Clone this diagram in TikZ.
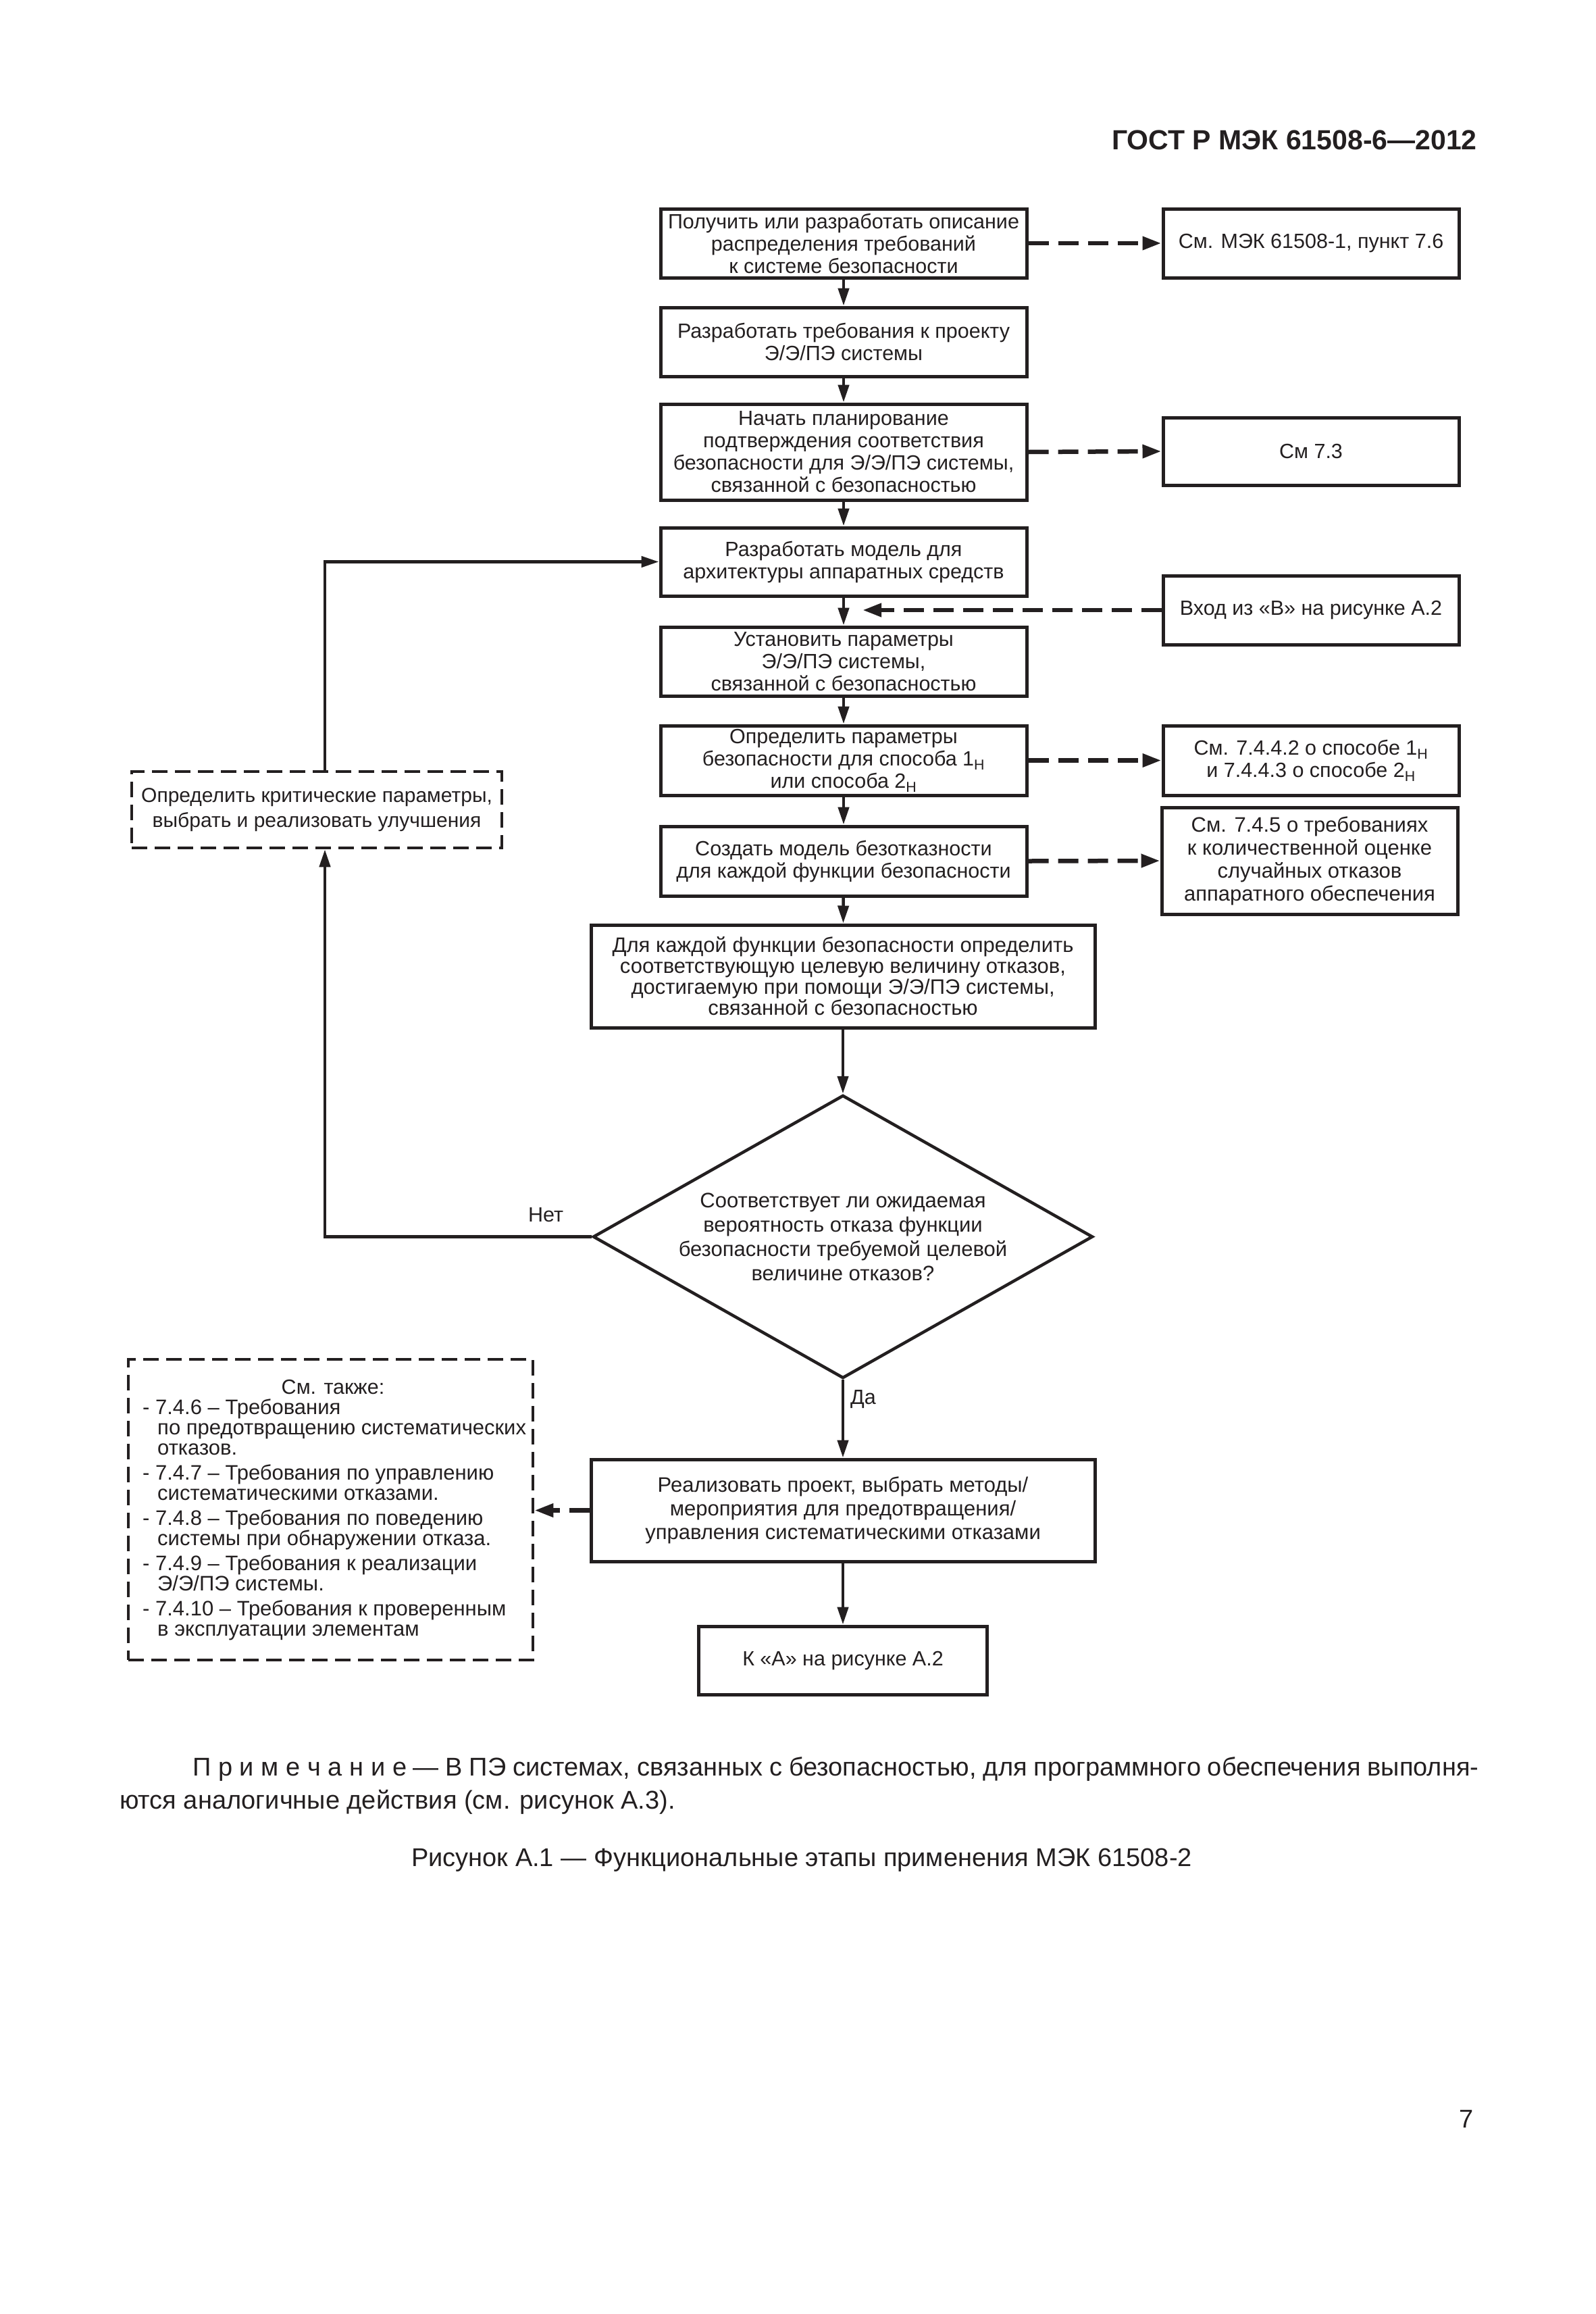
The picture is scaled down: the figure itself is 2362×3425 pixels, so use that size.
\documentclass[tikz,border=0pt]{standalone}
\usepackage{fontspec}
\setmainfont{Liberation Sans}
\usetikzlibrary{arrows.meta,shapes.geometric,calc}
\definecolor{ink}{RGB}{35,31,32}
\newcommand\fmain{\fontsize{30.5}{33}\selectfont}
\newcommand\fnote{\fontsize{38}{44}\selectfont}
\newcommand\sH{\textsubscript{Н}}
\begin{document}
\begin{tikzpicture}[x=1pt,y=-1pt,
  box/.style={draw=ink, line width=5pt, inner sep=0pt, align=center, font=\fmain, text=ink, minimum width=542pt},
  rbox/.style={box, minimum width=438pt},
  wbox/.style={box, minimum width=746pt},
  dbox/.style={draw=ink, line width=4.5pt, dash pattern=on 23pt off 11pt, inner sep=0pt, align=center, font=\fmain, text=ink},
  conn/.style={draw=ink, line width=4.5pt, -{Triangle[length=26pt,width=16pt]}},
  dconn/.style={draw=ink, line width=6.5pt, dash pattern=on 30pt off 14pt, -{Triangle[length=28pt,width=19pt]}},
  lbl/.style={font=\fmain, text=ink, inner sep=0pt}
]
\useasboundingbox (0,0) rectangle (2362,3425);
\fill[white] (0,0) rectangle (2362,3425);

\node[anchor=base east, inner sep=0pt, text=ink, font=\bfseries\fontsize{41}{44}\selectfont] (hdr) at (2187,222) {ГОСТ Р МЭК 61508-6—2012};

\node[box, minimum height=102pt] (b1) at (1249,360) {Получить или разработать описание\\распределения требований\\к системе безопасности};
\node[rbox, minimum height=102pt] (r1) at (1941,360) {См. МЭК 61508-1, пункт 7.6};
\node[box, minimum height=102pt] (b2) at (1249,506) {Разработать требования к проекту\\Э/Э/ПЭ системы};
\node[box, minimum height=142pt] (b3) at (1249,669) {Начать планирование\\подтверждения соответствия\\безопасности для Э/Э/ПЭ системы,\\связанной с безопасностью};
\node[rbox, minimum height=100pt] (r3) at (1941,668) {См 7.3};
\node[box, minimum height=101pt] (b4) at (1249,831.5) {Разработать модель для\\архитектуры аппаратных средств};
\node[rbox, minimum height=102pt] (vhod) at (1941,903) {Вход из «В» на рисунке А.2};
\coordinate (vin) at (1277,903);
\node[box, minimum height=102pt] (b5) at (1249,979) {Установить параметры\\Э/Э/ПЭ системы,\\связанной с безопасностью};
\node[box, minimum height=103pt] (b6) at (1249,1125.5) {Определить параметры\\безопасности для способа 1\sH\\или способа 2\sH};
\node[rbox, minimum height=103pt] (r6) at (1941,1125.5) {См. 7.4.4.2 о способе 1\sH\\и 7.4.4.3 о способе 2\sH};
\node[box, minimum height=103pt] (b7) at (1249,1274.5) {Создать модель безотказности\\для каждой функции безопасности};
\node[rbox, minimum height=158pt, font=\fontsize{31}{34}\selectfont] (r7) at (1939,1274) {См. 7.4.5 о требованиях\\к количественной оценке\\случайных отказов\\аппаратного обеспечения};
\node[wbox, minimum height=152pt, font=\fontsize{31}{31}\selectfont] (b8) at (1248,1445) {Для каждой функции безопасности определить\\соответствующую целевую величину отказов,\\достигаемую при помощи Э/Э/ПЭ системы,\\связанной с безопасностью};

\node[draw=ink, line width=4.5pt, diamond, inner sep=0pt, minimum width=740pt, minimum height=419pt] (dia) at (1248,1830.5) {};
\node[lbl, align=center, font=\fontsize{31}{36}\selectfont] (diatext) at (dia.center) {Соответствует ли ожидаемая\\вероятность отказа функции\\безопасности требуемой целевой\\величине отказов?};
\node[lbl] (net) at (808,1798) {Нет};
\node[lbl, anchor=west] (da) at (1259,2071) {Да};

\node[wbox, minimum height=151pt, font=\fontsize{31}{35}\selectfont] (b9) at (1248,2235.5) {Реализовать проект, выбрать методы/\\мероприятия для предотвращения/\\управления систематическими отказами};
\node[box, minimum width=427pt, minimum height=101pt] (b10) at (1248,2457.5) {К «А» на рисунке А.2};

\node[dbox, minimum width=548pt, minimum height=113pt, font=\fontsize{30}{37}\selectfont] (crit) at (469,1198.5) {Определить критические параметры,\\выбрать и реализовать улучшения};

\node[dbox, minimum width=599pt, minimum height=445pt] (seealso) at (489.5,2234.5) {};
\node[lbl, anchor=base] (seetitle) at (493,2063) {См. также:};
\node[lbl, anchor=north west, align=left, font=\fontsize{31}{30}\selectfont] (seelist) at (211,2071) {- 7.4.6 – Требования\\
\hspace*{22pt}по предотвращению систематических\\
\hspace*{22pt}отказов.\\[7pt]
- 7.4.7 – Требования по управлению\\
\hspace*{22pt}систематическими отказами.\\[7pt]
- 7.4.8 – Требования по поведению\\
\hspace*{22pt}системы при обнаружении отказа.\\[7pt]
- 7.4.9 – Требования к реализации\\
\hspace*{22pt}Э/Э/ПЭ системы.\\[7pt]
- 7.4.10 – Требования к проверенным\\
\hspace*{22pt}в эксплуатации элементам};

% connectors
\draw[conn] (b1) -- (b2);
\draw[conn] (b2) -- (b3);
\draw[conn] (b3) -- (b4);
\draw[conn] (b4) -- (b5);
\draw[conn] (b5) -- (b6);
\draw[conn] (b6) -- (b7);
\draw[conn] (b7) -- (b8);
\draw[conn] (b8) -- (dia.north);
\draw[conn] (dia.south) -- (b9);
\draw[conn] (b9) -- (b10);
\draw[dconn] (b1.east) -- (r1.west);
\draw[dconn] (b3.east) -- (r3.west);
\draw[dconn] (vhod.west) -- (vin);
\draw[dconn] (b6.east) -- (r6.west);
\draw[dconn] (b7.east) -- (r7.west);
\draw[dconn] (b9.west) -- (b9.west -| seealso.east);
\draw[conn] (dia.west) -| ([xshift=12pt]crit.south);
\draw[conn] ([xshift=12pt]crit.north) |- (b4.west);

% note and caption
\node[lbl, anchor=base west, font=\fnote] (note1) at (285,2628) {\makebox[1904pt][s]{П\kern.28em р\kern.28em и\kern.28em м\kern.28em е\kern.28em ч\kern.28em а\kern.28em н\kern.28em и\kern.28em е — В ПЭ системах, связанных с безопасностью, для программного обеспечения выполня-}};
\node[lbl, anchor=base west, font=\fnote] (note2) at (177,2677) {ются аналогичные действия (см. рисунок А.3).};
\node[lbl, anchor=base, font=\fnote] (cap) at (1187,2762) {Рисунок А.1 — Функциональные этапы применения МЭК 61508-2};
\node[lbl, anchor=base east, font=\fnote] (pnum) at (2182,3149) {7};
\end{tikzpicture}
\end{document}
